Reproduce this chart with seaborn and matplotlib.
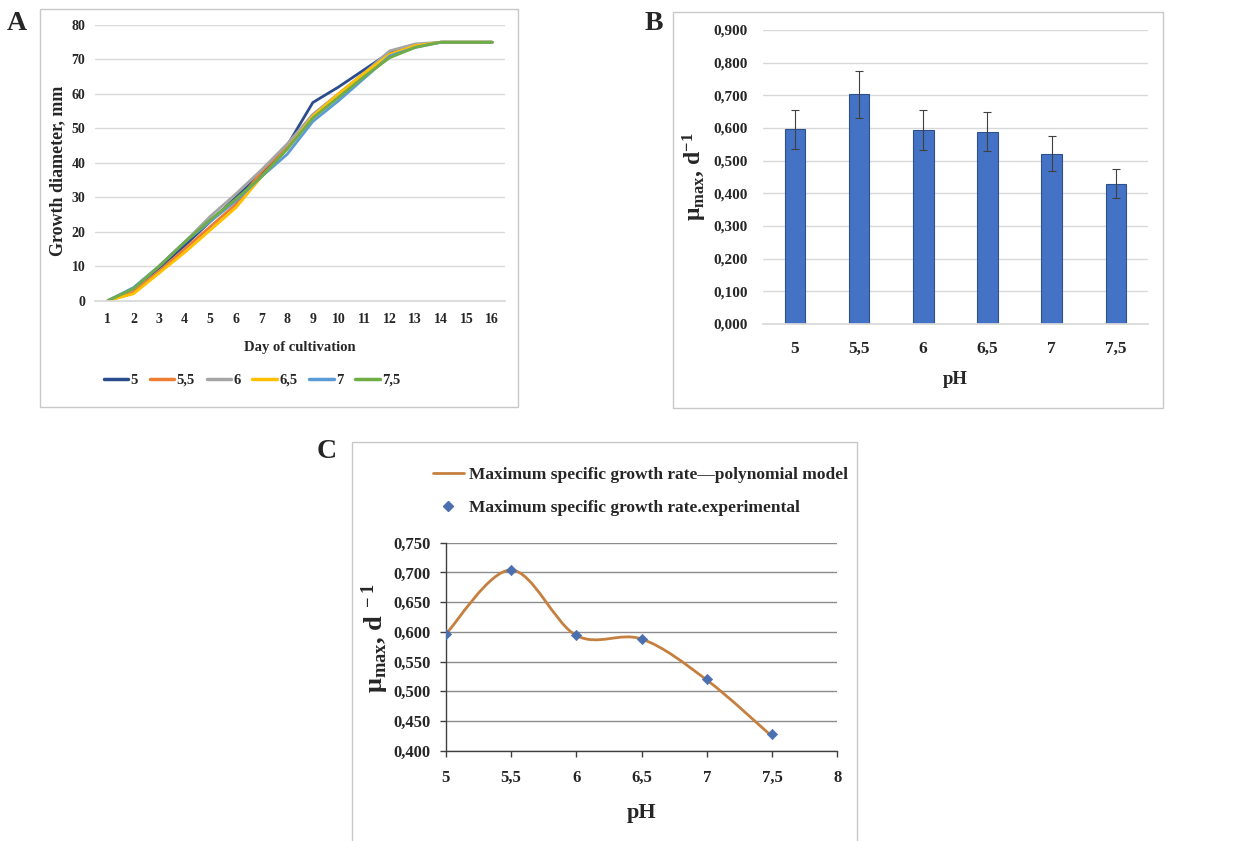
import numpy as np
import pandas as pd
import matplotlib
matplotlib.use('Agg')
import matplotlib.pyplot as plt
from matplotlib.path import Path
from matplotlib.patches import PathPatch, Rectangle
from matplotlib.lines import Line2D
import seaborn as sns

# --- data ---
days = list(range(1, 17))
ph_labels = ['5', '5,5', '6', '6,5', '7', '7,5']
growth_5 = [0, 3.5, 9.5, 16, 23, 30, 37, 45, 57.5, 62, 67, 72, 74, 75, 75, 75]
growth_55 = [0, 2.5, 8.5, 15, 21.5, 28, 37.5, 45, 54, 60, 66, 71.5, 74, 75, 75, 75]
growth_6 = [0, 3.5, 10, 17, 24.5, 31, 38, 45.5, 54, 60, 66, 72.5, 74.5, 75, 75, 75]
growth_65 = [0, 2, 8, 14, 20.5, 27, 36, 44, 53.5, 60, 66, 71.5, 74, 75, 75, 75]
growth_7 = [0, 3.8, 10, 17, 23, 29, 36, 42.5, 52, 58, 64.5, 71, 73.5, 75, 75, 75]
growth_75 = [0, 3.5, 10, 17, 23.5, 29.5, 36, 44, 53, 59, 65, 70.5, 73.5, 75, 75, 75]
line_colors = ['#2B4C8C', '#ED7D31', '#A5A5A5', '#FFC000', '#5B9BD5', '#70AD47']

mu_max = [0.596, 0.703, 0.594, 0.589, 0.521, 0.430]
mu_err = [0.060, 0.072, 0.061, 0.059, 0.054, 0.044]

ph_values = [5.0, 5.5, 6.0, 6.5, 7.0, 7.5]
mu_exp = [0.596, 0.704, 0.594, 0.588, 0.521, 0.428]
mu_model = [0.596, 0.704, 0.594, 0.588, 0.519, 0.424]

sns.set_theme(style='white')
plt.rcParams['font.family'] = ['Liberation Serif', 'DejaVu Serif']
plt.rcParams['font.weight'] = 'bold'
plt.rcParams['axes.labelweight'] = 'bold'
plt.rcParams['mathtext.fontset'] = 'custom'
plt.rcParams['mathtext.rm'] = 'Liberation Serif:bold'
plt.rcParams['mathtext.bf'] = 'Liberation Serif:bold'
plt.rcParams['mathtext.it'] = 'Liberation Serif:bold'

W, H = 1241, 841
fig = plt.figure(figsize=(W / 100, H / 100), dpi=100)
fig.patch.set_facecolor('white')


def fx(px):
    return px / W


def fy(py):
    return 1 - py / H


# chart-area frames
for (x0, y0, x1, y1) in [(40, 9, 518, 407), (673, 12, 1163, 408), (352, 442, 857, 850)]:
    fig.patches.append(Rectangle((fx(x0), fy(y1)), fx(x1 - x0), (y1 - y0) / H,
                                 transform=fig.transFigure, fill=False,
                                 edgecolor='#C8C8C8', linewidth=1.0, zorder=0))

# ---------------- Panel A ----------------
axA = fig.add_axes([fx(95), fy(300.7), fx(410), 275.7 / H])
df_a = pd.DataFrame({
    'day': days * 6,
    'diameter': growth_5 + growth_55 + growth_6 + growth_65 + growth_7 + growth_75,
    'pH': sum([[p] * len(days) for p in ph_labels], []),
})
sns.lineplot(data=df_a, x='day', y='diameter', hue='pH', hue_order=ph_labels,
             palette=line_colors, linewidth=2.0, ax=axA, legend=False)
axA.set_xlim(0.5, 16.5)
axA.set_ylim(0, 80)
axA.set_xticks(days)
axA.set_yticks(range(0, 81, 10))
axA.tick_params(axis='both', length=0, labelsize=10)
axA.tick_params(axis='y', pad=7)
axA.tick_params(axis='x', pad=9)
axA.grid(axis='y', color='#D9D9D9', linewidth=1.0)
axA.set_axisbelow(True)
for s in ['top', 'right', 'left']:
    axA.spines[s].set_visible(False)
axA.spines['bottom'].set_color('#D9D9D9')
axA.set_xlabel('Day of cultivation', fontsize=10.5)
axA.set_ylabel('Growth diameter, mm', fontsize=13)
axA.yaxis.set_label_coords(-0.07, 0.47)
axA.xaxis.set_label_coords(0.5, -0.145)
handles = [Line2D([], [], color=c, linewidth=2.5) for c in line_colors]
fig.legend(handles, ph_labels, loc='center', bbox_to_anchor=(fx(252), fy(380)),
           ncol=6, frameon=False, fontsize=10.5, handlelength=1.7,
           handletextpad=0.15, columnspacing=0.8)
fig.text(fx(17), fy(23), 'A', fontsize=20, fontweight='bold', ha='center', va='center')

# ---------------- Panel B ----------------
axB = fig.add_axes([fx(762.7), fy(324), fx(385.3), 294 / H])
df_b = pd.DataFrame({'pH': ph_labels, 'mu': mu_max, 'err': mu_err})
sns.barplot(data=df_b, x='pH', y='mu', color='#4472C4', width=0.32,
            errorbar=None, edgecolor='#2F528F', linewidth=0.8, saturation=1, ax=axB)
axB.errorbar(range(len(ph_labels)), df_b['mu'], yerr=df_b['err'], fmt='none',
             ecolor='#404040', elinewidth=0.8, capsize=3, capthick=0.8)
axB.set_xlim(-0.5, 5.5)
axB.set_ylim(0, 0.9)
yb = np.arange(0, 0.91, 0.1)
axB.set_yticks(yb)
axB.set_yticklabels([('%.3f' % v).replace('.', ',') for v in yb])
axB.tick_params(axis='both', length=0, labelsize=11)
axB.tick_params(axis='x', labelsize=12.5, pad=12)
axB.tick_params(axis='y', pad=11)
axB.grid(axis='y', color='#D9D9D9', linewidth=1.0)
axB.set_axisbelow(True)
for s in ['top', 'right', 'left']:
    axB.spines[s].set_visible(False)
axB.spines['bottom'].set_color('#D9D9D9')
axB.set_xlabel('pH', fontsize=13.5)
axB.set_ylabel('μ$_{\\mathbf{max}}$, d$^{\\mathbf{-1}}$', fontsize=17)
axB.yaxis.set_label_coords(-0.14, 0.5)
axB.xaxis.set_label_coords(0.5, -0.16)
fig.text(fx(654), fy(23), 'B', fontsize=20, fontweight='bold', ha='center', va='center')

# ---------------- Panel C ----------------
axC = fig.add_axes([fx(445.7), fy(750.7), fx(391.6), 208 / H])
# Excel-style smoothed line through the model values (cubic Bezier segments)
pts = np.column_stack([ph_values, mu_model])
verts = [tuple(pts[0])]
codes = [Path.MOVETO]
n = len(pts)
for i in range(n - 1):
    p_prev = pts[max(i - 1, 0)]
    p0 = pts[i]
    p1 = pts[i + 1]
    p_next = pts[min(i + 2, n - 1)]
    c1 = p0 + (p1 - p_prev) / 6.0
    c2 = p1 - (p_next - p0) / 6.0
    verts += [tuple(c1), tuple(c2), tuple(p1)]
    codes += [Path.CURVE4] * 3
axC.add_patch(PathPatch(Path(verts, codes), fill=False, edgecolor='#C5803F',
                        linewidth=2.0, zorder=3))
sns.scatterplot(x=ph_values, y=mu_exp, marker='D', s=28, color='#4A70B0',
                edgecolor='#4A70B0', zorder=4, ax=axC)
axC.set_xlim(5, 8)
axC.set_ylim(0.4, 0.75)
axC.set_xticks(np.arange(5, 8.01, 0.5))
axC.set_xticklabels(['5', '5,5', '6', '6,5', '7', '7,5', '8'])
yt = np.arange(0.4, 0.751, 0.05)
axC.set_yticks(yt)
axC.set_yticklabels([('%.3f' % v).replace('.', ',') for v in yt])
axC.tick_params(axis='both', direction='out', length=4, width=1, color='#404040',
                labelsize=12, left=True, bottom=True)
axC.tick_params(axis='y', pad=7)
axC.tick_params(axis='x', pad=10)
axC.grid(axis='y', color='#8C8C8C', linewidth=1.0)
axC.set_axisbelow(True)
for s in ['top', 'right']:
    axC.spines[s].set_visible(False)
for s in ['left', 'bottom']:
    axC.spines[s].set_color('#404040')
    axC.spines[s].set_linewidth(1.0)
axC.set_xlabel('pH', fontsize=16)
axC.set_ylabel('μ$_{\\mathbf{max}}$, d$^{\\mathbf{\\ -1}}$', fontsize=19)
axC.yaxis.set_label_coords(-0.14, 0.54)
axC.xaxis.set_label_coords(0.5, -0.25)
leg_handles = [Line2D([], [], color='#C5803F', linewidth=2.0),
               Line2D([], [], color='#4A70B0', marker='D', linestyle='none', markersize=5)]
fig.legend(leg_handles, ['Maximum specific growth rate\u2014polynomial model',
                         'Maximum specific growth rate.experimental'],
           loc='upper left', bbox_to_anchor=(fx(417), fy(451)), frameon=False,
           fontsize=12.5, handlelength=1.8, handletextpad=0.3, labelspacing=1.0)
fig.text(fx(327), fy(452), 'C', fontsize=20, fontweight='bold', ha='center', va='center')

fig.savefig('out.png', dpi=100, facecolor='white')
plt.close(fig)
